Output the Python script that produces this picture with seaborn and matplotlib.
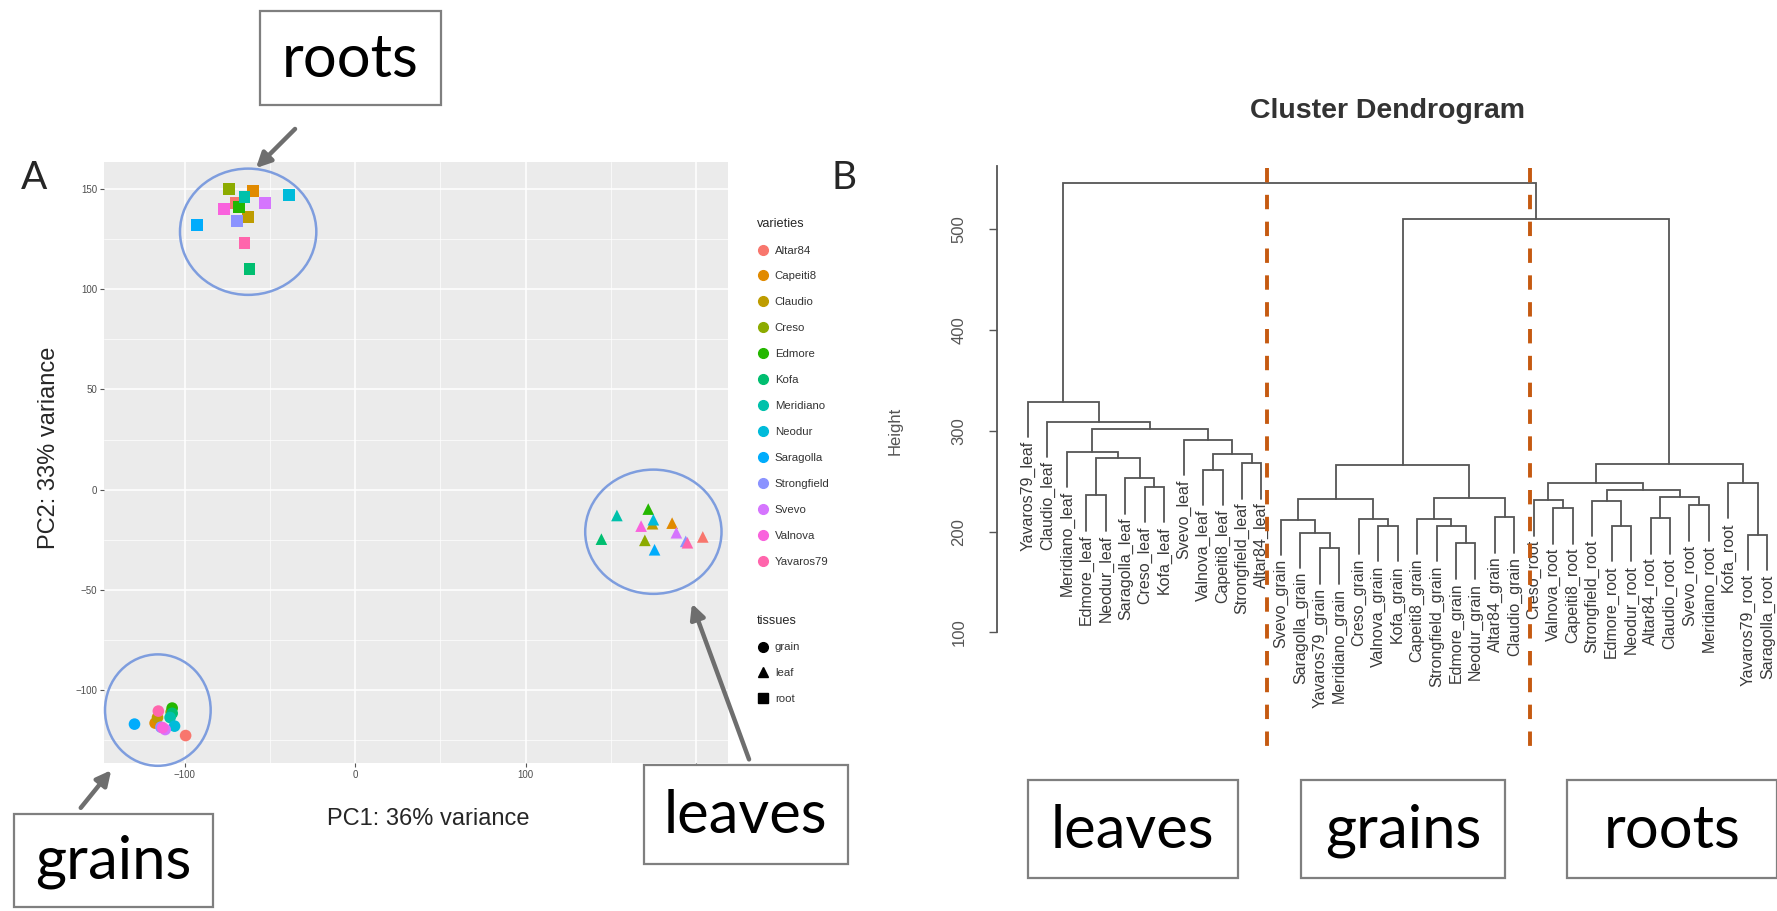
import numpy as np
import pandas as pd
import matplotlib
matplotlib.use("Agg")
import matplotlib.pyplot as plt
import seaborn as sns
from matplotlib.patches import Ellipse, Rectangle, FancyArrowPatch
from matplotlib.lines import Line2D

# ---------------- data: PCA (panel A) ----------------
varieties = ["Altar84", "Capeiti8", "Claudio", "Creso", "Edmore", "Kofa", "Meridiano",
             "Neodur", "Saragolla", "Strongfield", "Svevo", "Valnova", "Yavaros79"]
variety_colors = ["#F8766D", "#E18A00", "#BE9C00", "#8CAB00", "#24B700", "#00BE70", "#00C1AB",
                  "#00BBDA", "#00ACFC", "#8B93FF", "#D575FE", "#F962DD", "#FF65AC"]
tissues = ["grain", "leaf", "root"]
tissue_markers = ["o", "^", "s"]

grain_pc1 = [-99.5, -117.4, -116.0, -108.0, -107.4, -107.4, -108.6, -106.0, -129.5, -114.0, -111.5, -113.0, -115.5]
grain_pc2 = [-122.7, -116.5, -113.7, -111.0, -109.0, -111.6, -113.7, -118.0, -117.0, -118.5, -119.7, -118.8, -110.5]
leaf_pc1 = [204.0, 186.0, 174.5, 170.0, 172.0, 144.5, 153.6, 175.0, 175.7, 194.0, 188.5, 167.8, 195.0]
leaf_pc2 = [-23.6, -16.7, -17.0, -25.3, -9.7, -24.7, -12.9, -15.0, -30.0, -25.8, -21.5, -18.2, -26.5]
root_pc1 = [-70.0, -60.0, -63.0, -74.0, -68.0, -62.0, -65.0, -39.0, -93.0, -69.5, -53.0, -77.0, -65.0]
root_pc2 = [143.0, 149.0, 136.0, 150.0, 141.0, 110.0, 146.0, 147.0, 132.0, 134.0, 143.0, 140.0, 123.0]

pc1_ticks = [-100, 0, 100, 200]
pc2_ticks = [-100, -50, 0, 50, 100, 150]

# ---------------- data: dendrogram (panel B) ----------------
leaf_labels = ["Yavaros79_leaf", "Claudio_leaf", "Meridiano_leaf", "Edmore_leaf", "Neodur_leaf",
               "Saragolla_leaf", "Creso_leaf", "Kofa_leaf", "Svevo_leaf", "Valnova_leaf",
               "Capeiti8_leaf", "Strongfield_leaf", "Altar84_leaf",
               "Svevo_grain", "Saragolla_grain", "Yavaros79_grain", "Meridiano_grain", "Creso_grain",
               "Valnova_grain", "Kofa_grain", "Capeiti8_grain", "Strongfield_grain", "Edmore_grain",
               "Neodur_grain", "Altar84_grain", "Claudio_grain",
               "Creso_root", "Valnova_root", "Capeiti8_root", "Strongfield_root", "Edmore_root",
               "Neodur_root", "Altar84_root", "Claudio_root", "Svevo_root", "Meridiano_root",
               "Kofa_root", "Yavaros79_root", "Saragolla_root"]
# merges (hclust-like): indices < 39 are leaves, >= 39 refer to earlier merges
merge_a = [3, 6, 5, 39, 2, 9, 11, 44, 8, 43, 1, 0,
           15, 14, 13, 18, 17, 53, 22, 21, 20, 24, 59, 56,
           27, 26, 30, 29, 32, 34, 67, 66, 64, 37, 36, 71,
           62, 50]
merge_b = [4, 7, 40, 41, 42, 10, 12, 45, 46, 47, 48, 49,
           16, 51, 52, 19, 54, 55, 23, 57, 58, 25, 60, 61,
           28, 63, 31, 65, 33, 35, 68, 69, 70, 38, 72, 73,
           74, 75]
merge_h = [236.0, 244.5, 252.8, 272.6, 279.0, 261.0, 267.7, 277.0, 290.8, 301.6, 309.0, 328.7,
           183.4, 199.0, 211.5, 205.5, 212.5, 232.0, 188.4, 205.5, 212.5, 214.0, 233.6, 266.0,
           223.0, 231.0, 205.5, 230.6, 213.0, 226.0, 234.0, 241.0, 247.9, 196.6, 248.0, 267.0,
           510.0, 545.0]
height_ticks = [100, 200, 300, 400, 500]
hang = 35.0

# ---------------- style ----------------
sns.set_style("darkgrid", {"axes.facecolor": "#EBEBEB", "grid.color": "white"})
plt.rcParams["font.family"] = ["Liberation Sans", "DejaVu Sans"]

W, H = 1777, 911
fig = plt.figure(figsize=(W / 100, H / 100), dpi=100)
fig.patch.set_facecolor("white")


def fx(x):
    return x / W


def fy(y):
    return 1 - y / H


# ================= Panel A =================
ax1 = fig.add_axes([fx(104), fy(763), (728 - 104) / W, (763 - 162) / H])
rows = []
for t, p1, p2 in zip(tissues, [grain_pc1, leaf_pc1, root_pc1], [grain_pc2, leaf_pc2, root_pc2]):
    for v, a, b in zip(varieties, p1, p2):
        rows.append({"variety": v, "tissue": t, "PC1": a, "PC2": b})
df = pd.DataFrame(rows)
sns.scatterplot(data=df, x="PC1", y="PC2", hue="variety", hue_order=varieties,
                palette=variety_colors, style="tissue", style_order=tissues,
                markers=dict(zip(tissues, tissue_markers)), s=70, linewidth=0,
                legend=False, ax=ax1, zorder=3)
ax1.set_xlim(-147.4, 218.8)
ax1.set_ylim(-136.4, 163.5)
ax1.set_xticks(pc1_ticks)
ax1.set_yticks(pc2_ticks)
ax1.set_xticks([-50, 50, 150], minor=True)
ax1.set_yticks([-125, -75, -25, 25, 75, 125], minor=True)
ax1.grid(which="major", color="white", lw=1.1)
ax1.grid(which="minor", color="white", lw=0.5)
for s in ax1.spines.values():
    s.set_visible(False)
ax1.tick_params(which="major", length=3, width=0.8, color="#555555", labelsize=7,
                labelcolor="#4D4D4D", pad=2, bottom=True, left=True)
ax1.tick_params(which="minor", length=0)
ax1.set_xlabel("PC1: 36% variance", fontsize=17, va="center")
ax1.set_ylabel("PC2: 33% variance", fontsize=17, va="center")
ax1.xaxis.set_label_coords((428 - 104) / 624, (763 - 819) / 601)
ax1.yaxis.set_label_coords((49 - 104) / 624, (763 - 448) / 601)

# cluster ellipses (data coords)
for (cx, cy, rx, ry) in [(-62.8, 128.7, 40, 31.5), (175, -21, 40, 31), (-115.8, -110, 31, 27.8)]:
    ax1.add_patch(Ellipse((cx, cy), 2 * rx, 2 * ry, fill=False, ec="#7E9DDE", lw=1.8,
                          clip_on=False, zorder=4))

# legends
var_handles = [Line2D([], [], marker="o", ls="", color=c, markersize=7) for c in variety_colors]
leg1 = fig.legend(var_handles, varieties, title="varieties", loc="upper left",
                  bbox_to_anchor=(fx(752), fy(213)), frameon=False, fontsize=8.2,
                  title_fontsize=9.2, labelspacing=1.4, handletextpad=0.5,
                  handlelength=1.1, borderaxespad=0, alignment="left")
tis_handles = [Line2D([], [], marker=m, ls="", color="black", markersize=7) for m in tissue_markers]
leg2 = fig.legend(tis_handles, tissues, title="tissues", loc="upper left",
                  bbox_to_anchor=(fx(752), fy(610)), frameon=False, fontsize=8.2,
                  title_fontsize=9.2, labelspacing=1.4, handletextpad=0.5,
                  handlelength=1.1, borderaxespad=0, alignment="left")
for lg in (leg1, leg2):
    for tx in lg.get_texts():
        tx.set_color("#333333")

# ================= Panel B =================
ax2 = fig.add_axes([fx(940.5), fy(760), 1 - fx(940.5), (760 - 150) / H])
ax2.set_facecolor("white")
ax2.grid(False)
ax2.set_xlim(-4.5, 38.5)
ax2.set_ylim(-26.4, 578.2)

n = len(leaf_labels)
node_x = {i: float(i) for i in range(n)}
node_h = {}
parent_h = {}
for k, (a, b, h) in enumerate(zip(merge_a, merge_b, merge_h)):
    parent_h[a] = h
    parent_h[b] = h
    node_x[n + k] = (node_x[a] + node_x[b]) / 2
    node_h[n + k] = h
for i in range(n):
    node_h[i] = parent_h[i] - hang

lc = "#555555"
for k, (a, b, h) in enumerate(zip(merge_a, merge_b, merge_h)):
    xa, xb = node_x[a], node_x[b]
    ax2.plot([xa, xa, xb, xb], [node_h[a], h, h, node_h[b]], color=lc, lw=1.3,
             solid_joinstyle="miter", clip_on=False)
for i, lab in enumerate(leaf_labels):
    ax2.text(i, node_h[i] - 4, lab, rotation=90, ha="center", va="top", fontsize=11.5,
             color="#3A3A3A", clip_on=False)

for s in ["top", "right", "bottom"]:
    ax2.spines[s].set_visible(False)
ax2.spines["left"].set_position(("data", -1.6))
ax2.spines["left"].set_bounds(100, 562)
ax2.spines["left"].set_color(lc)
ax2.spines["left"].set_linewidth(1.3)
ax2.set_xticks([])
ax2.set_yticks(height_ticks)
ax2.set_yticklabels([str(t) for t in height_ticks], rotation=90, va="center")
ax2.tick_params(axis="y", length=6, width=1.0, color=lc, labelsize=12, labelcolor="#555555",
                pad=16, left=True)
ax2.set_ylabel("Height", fontsize=12, color="#555555", va="center")
ax2.yaxis.set_label_coords((895 - 940.5) / (W - 940.5), (760 - 431) / 610)

# cut lines
for xc in [12.3, 25.8]:
    ax2.plot([xc, xc], [560.4, -23.4], color="#C55A11", lw=2.8, dashes=(3.7, 3.2),
             clip_on=False, zorder=5)

fig.text(fx(1388), fy(111), "Cluster Dendrogram", ha="center", va="center", fontsize=20.5,
         fontweight="bold", color="#333333")

# ================= Annotations =================
ann_font = ["Lato", "DejaVu Sans"]
boxes = [("roots", 259.5, 11, 441, 105.4), ("grains", 13.6, 813.7, 213, 906.7),
         ("leaves", 643.7, 765, 847.7, 863.6), ("leaves", 1028, 779.7, 1237.6, 878.3),
         ("grains", 1301, 779.7, 1505, 878.3), ("roots", 1567.4, 779.7, 1777, 878.3)]
for txt, x0, y0, x1, y1 in boxes:
    fig.add_artist(Rectangle((fx(x0), fy(y1)), (x1 - x0) / W, (y1 - y0) / H,
                             transform=fig.transFigure, fc="white", ec="#7F7F7F", lw=1.6,
                             zorder=10))
    fig.text(fx((x0 + x1) / 2), fy((y0 + y1) / 2 + 2), txt, ha="center", va="center",
             fontsize=43, family=ann_font, color="black", zorder=11)

arrows = [((297, 127), (254, 170)), ((79, 810), (113, 768)), ((750, 762), (691, 601))]
for (xa, ya), (xb, yb) in arrows:
    fig.add_artist(FancyArrowPatch((fx(xa), fy(ya)), (fx(xb), fy(yb)),
                                   transform=fig.transFigure, arrowstyle="-|>",
                                   mutation_scale=22, lw=3.2, color="#6E6E6E", zorder=12))

fig.text(fx(34), fy(178), "A", ha="center", va="center", fontsize=28, family=ann_font)
fig.text(fx(844), fy(178), "B", ha="center", va="center", fontsize=28, family=ann_font)

fig.savefig("out.png", dpi=100, facecolor="white")
